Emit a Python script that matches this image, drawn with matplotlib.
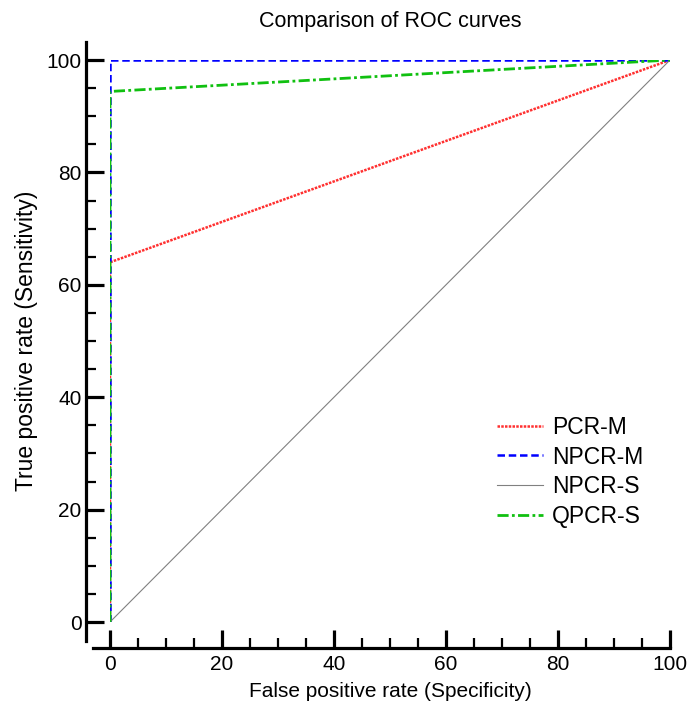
import matplotlib
matplotlib.use("Agg")
import matplotlib.pyplot as plt
from matplotlib.ticker import MultipleLocator

plt.rcParams["font.family"] = ["Liberation Sans", "DejaVu Sans"]

# ROC curve points (false positive rate, true positive rate)
pcr_m_x = [0, 0, 100]
pcr_m_y = [0, 64, 100]
npcr_m_x = [0, 0, 100]
npcr_m_y = [0, 100, 100]
npcr_s_x = [0, 100]
npcr_s_y = [0, 100]
qpcr_s_x = [0, 0, 100]
qpcr_s_y = [0, 94.4, 100]

fig = plt.figure(figsize=(6.88, 7.14), dpi=100)
ax = fig.add_axes([110 / 688, 1 - 622 / 714, 560 / 688, 562 / 714])

ax.plot(pcr_m_x, pcr_m_y, color="#ff3030", ls=(0, (1, 0.5)), lw=1.8, label="PCR-M")
ax.plot(npcr_m_x, npcr_m_y, color="#0000ff", ls=(0, (3, 1.5)), lw=1.8, label="NPCR-M")
ax.plot(npcr_s_x, npcr_s_y, color="#808080", ls="-", lw=0.8, label="NPCR-S")
ax.plot(qpcr_s_x, qpcr_s_y, color="#10c010", ls=(0, (4, 1.2, 1, 1.2)), lw=2.0, label="QPCR-S")

ax.set_xlim(0, 100)
ax.set_ylim(0, 100)
ax.xaxis.set_major_locator(MultipleLocator(20))
ax.xaxis.set_minor_locator(MultipleLocator(5))
ax.yaxis.set_major_locator(MultipleLocator(20))
ax.yaxis.set_minor_locator(MultipleLocator(5))

for s in ["top", "right"]:
    ax.spines[s].set_visible(False)
ax.spines["left"].set_position(("outward", 17))
ax.spines["bottom"].set_position(("outward", 19))
ax.spines["left"].set_linewidth(2.3)
ax.spines["bottom"].set_linewidth(2.3)
ax.spines["left"].set_bounds(-3.4, 103.2)
ax.spines["bottom"].set_bounds(-3.0, 100)
ax.tick_params(which="major", direction="in", length=13, width=2.3, labelsize=15)
ax.tick_params(which="minor", direction="in", length=7, width=1.6)
ax.tick_params(axis="y", which="major", pad=3.5)
ax.tick_params(axis="x", which="major", pad=4.5)

ax.set_xlabel("False positive rate (Specificity)", fontsize=15, labelpad=6)
ax.set_ylabel("True positive rate (Sensitivity)", fontsize=16.5, labelpad=6)
ax.set_title("Comparison of ROC curves", fontsize=15.5, pad=24)

ax.legend(loc="center left", bbox_to_anchor=(0.691, 0.267), frameon=False, fontsize=16.5,
          handlelength=2.0, handletextpad=0.4, labelspacing=0.3,
          borderpad=0, borderaxespad=0)

fig.savefig("out.png", dpi=100)
